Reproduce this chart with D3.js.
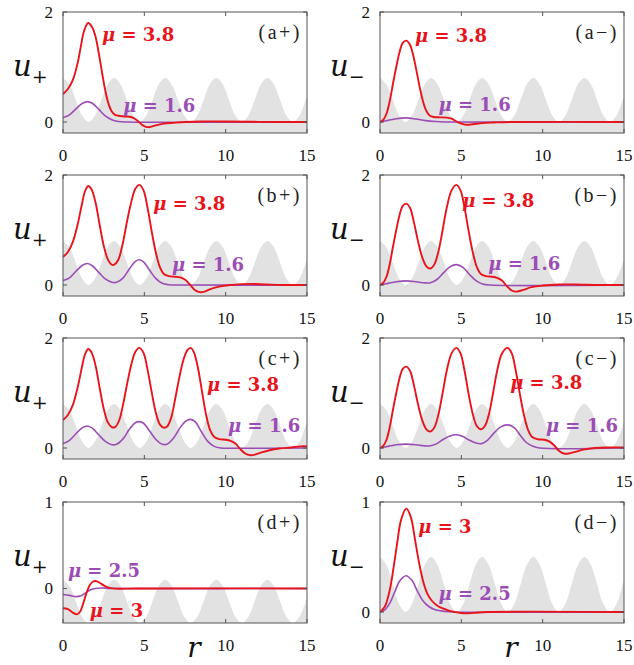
<!DOCTYPE html>
<html>
<head>
<meta charset="utf-8">
<script src="https://cdn.jsdelivr.net/npm/d3@7"></script>
<style>
  body { margin: 0; background: #fff; }
</style>
</head>
<body>
<svg id="mainSvg" width="634" height="665"></svg>
<script>
// ---------- data ----------
var xTicks = [0, 5, 10, 15];

// background potential (grey), normalised 0..1, sampled every pi/8
var potR = [0, 0.39, 0.79, 1.18, 1.57, 1.96, 2.36, 2.75, 3.14, 3.53, 3.93, 4.32, 4.71, 5.11, 5.50, 5.89,
            6.28, 6.68, 7.07, 7.46, 7.85, 8.25, 8.64, 9.03, 9.42, 9.82, 10.21, 10.60, 11.00, 11.39, 11.78,
            12.17, 12.57, 12.96, 13.35, 13.74, 14.14, 14.53, 14.92, 15.0];
var potV = [1, 0.86, 0.5, 0.14, 0, 0.14, 0.5, 0.86, 1, 0.86, 0.5, 0.14, 0, 0.14, 0.5, 0.86,
            1, 0.86, 0.5, 0.14, 0, 0.14, 0.5, 0.86, 1, 0.86, 0.5, 0.14, 0, 0.14, 0.5,
            0.86, 1, 0.86, 0.5, 0.14, 0, 0.14, 0.5, 0.57];

// (a+)
var aPlusRed = [[0,0.51],[0.3,0.6],[0.6,0.76],[0.9,1.07],[1.1,1.38],[1.3,1.66],[1.55,1.8],[1.8,1.72],[2.0,1.55],
  [2.2,1.25],[2.4,0.9],[2.6,0.57],[2.8,0.33],[3.0,0.19],[3.2,0.13],[3.5,0.11],[3.8,0.1],[4.1,0.095],[4.35,0.07],
  [4.6,0.02],[4.85,-0.05],[5.1,-0.09],[5.35,-0.09],[5.7,-0.06],[6.2,-0.03],[6.8,-0.015],[7.5,0],[8.5,0.01],
  [10,0.01],[11.5,0.005],[13,0],[15,0]];
var aPlusPurple = [[0,0.08],[0.4,0.13],[0.8,0.24],[1.2,0.34],[1.5,0.37],[1.8,0.34],[2.2,0.23],[2.6,0.11],
  [3.0,0.04],[3.4,0.01],[4,0],[15,0]];
// (a-)
var aMinusRed = [[0,0],[0.2,0.04],[0.4,0.15],[0.6,0.38],[0.8,0.7],[1.0,1.0],[1.2,1.27],[1.4,1.44],[1.62,1.48],
  [1.85,1.4],[2.05,1.2],[2.25,0.92],[2.45,0.62],[2.65,0.37],[2.85,0.2],[3.05,0.12],[3.3,0.09],[3.7,0.085],
  [4.1,0.08],[4.4,0.06],[4.7,0.01],[5.0,-0.03],[5.3,-0.05],[5.7,-0.04],[6.3,-0.02],[7,-0.01],[8,0],[15,0]];
var aMinusPurple = [[0,0],[0.5,0.03],[1.0,0.06],[1.6,0.075],[2.2,0.055],[2.8,0.025],[3.4,0.008],[4,0],[15,0]];
// (b+)
var bPlusRed = [[0,0.51],[0.3,0.6],[0.6,0.78],[0.9,1.1],[1.15,1.45],[1.35,1.7],[1.55,1.8],[1.75,1.74],[2.0,1.5],
  [2.25,1.1],[2.5,0.72],[2.75,0.47],[3.0,0.37],[3.15,0.37],[3.4,0.46],[3.65,0.72],[3.9,1.1],[4.15,1.45],
  [4.45,1.75],[4.7,1.82],[4.95,1.72],[5.2,1.4],[5.45,0.98],[5.7,0.6],[5.95,0.33],[6.2,0.2],[6.5,0.16],
  [6.9,0.15],[7.2,0.14],[7.5,0.1],[7.8,0.01],[8.1,-0.09],[8.4,-0.13],[8.7,-0.12],[9.1,-0.07],[9.6,-0.03],
  [10.3,0],[11,0.015],[11.6,0.02],[12.5,0.01],[13.5,0],[15,0]];
var bPlusPurple = [[0,0.08],[0.4,0.13],[0.8,0.25],[1.2,0.36],[1.5,0.39],[1.8,0.35],[2.2,0.23],[2.6,0.11],
  [3.0,0.05],[3.3,0.05],[3.7,0.13],[4.1,0.3],[4.45,0.43],[4.7,0.46],[4.95,0.42],[5.3,0.28],[5.7,0.12],
  [6.1,0.03],[6.5,0.005],[7,0],[15,0]];
// (b-)
var bMinusRed = [[0,0],[0.2,0.04],[0.4,0.15],[0.6,0.38],[0.8,0.7],[1.0,1.0],[1.2,1.27],[1.4,1.44],[1.62,1.48],
  [1.85,1.4],[2.1,1.12],[2.35,0.78],[2.6,0.5],[2.85,0.34],[3.1,0.3],[3.35,0.38],[3.6,0.62],[3.85,1.0],
  [4.1,1.4],[4.4,1.72],[4.7,1.82],[4.95,1.72],[5.2,1.4],[5.45,0.98],[5.7,0.6],[5.95,0.33],[6.2,0.2],
  [6.5,0.16],[6.9,0.15],[7.2,0.13],[7.5,0.08],[7.8,-0.02],[8.1,-0.1],[8.4,-0.12],[8.8,-0.09],[9.3,-0.04],
  [10,-0.01],[11,0.01],[12,0.01],[13.5,0],[15,0]];
var bMinusPurple = [[0,0],[0.5,0.03],[1.0,0.06],[1.6,0.075],[2.2,0.06],[2.7,0.04],[3.1,0.04],[3.5,0.1],
  [3.9,0.22],[4.3,0.33],[4.7,0.37],[5.1,0.32],[5.5,0.19],[5.9,0.08],[6.3,0.02],[6.8,0],[15,0]];
// (c+)
var cPlusRed = [[0,0.51],[0.3,0.6],[0.6,0.78],[0.9,1.1],[1.15,1.45],[1.35,1.7],[1.55,1.8],[1.75,1.74],[2.0,1.5],
  [2.25,1.1],[2.5,0.72],[2.75,0.47],[3.0,0.38],[3.2,0.38],[3.45,0.5],[3.7,0.8],[3.95,1.18],[4.2,1.52],
  [4.45,1.75],[4.7,1.82],[4.95,1.73],[5.2,1.42],[5.45,1.02],[5.7,0.65],[5.95,0.43],[6.2,0.37],[6.4,0.39],
  [6.65,0.55],[6.9,0.9],[7.15,1.28],[7.4,1.6],[7.65,1.78],[7.85,1.82],[8.05,1.74],[8.3,1.45],[8.55,1.02],
  [8.8,0.6],[9.05,0.32],[9.3,0.2],[9.6,0.16],[10.0,0.15],[10.3,0.13],[10.6,0.08],[10.9,-0.02],[11.2,-0.1],
  [11.5,-0.13],[11.8,-0.12],[12.2,-0.08],[12.7,-0.04],[13.3,-0.01],[14,0.01],[14.6,0.03],[15,0.03]];
var cPlusPurple = [[0,0.08],[0.4,0.14],[0.8,0.26],[1.2,0.37],[1.5,0.4],[1.8,0.36],[2.2,0.24],[2.6,0.12],
  [3.0,0.06],[3.3,0.07],[3.7,0.17],[4.1,0.35],[4.45,0.46],[4.7,0.48],[4.95,0.45],[5.3,0.32],[5.7,0.16],
  [6.1,0.07],[6.4,0.07],[6.8,0.18],[7.2,0.37],[7.55,0.49],[7.85,0.52],[8.15,0.47],[8.5,0.3],[8.9,0.12],
  [9.3,0.03],[9.7,0],[10.5,-0.005],[15,0]];
// (c-)
var cMinusRed = [[0,0],[0.2,0.04],[0.4,0.15],[0.6,0.38],[0.8,0.7],[1.0,1.0],[1.2,1.27],[1.4,1.44],[1.62,1.48],
  [1.85,1.4],[2.1,1.12],[2.35,0.78],[2.6,0.5],[2.85,0.34],[3.1,0.3],[3.35,0.38],[3.6,0.62],[3.85,1.0],
  [4.1,1.4],[4.4,1.72],[4.7,1.82],[4.95,1.72],[5.2,1.4],[5.45,0.98],[5.7,0.62],[5.95,0.4],[6.2,0.34],
  [6.45,0.4],[6.7,0.62],[6.95,1.0],[7.2,1.4],[7.5,1.72],[7.85,1.82],[8.1,1.72],[8.35,1.4],[8.6,0.98],
  [8.85,0.6],[9.1,0.33],[9.35,0.2],[9.7,0.16],[10.1,0.15],[10.4,0.12],[10.7,0.05],[11.0,-0.05],[11.3,-0.1],
  [11.6,-0.1],[12,-0.07],[12.5,-0.03],[13.2,0],[14,0.01],[15,0.01]];
var cMinusPurple = [[0,0],[0.5,0.03],[1.0,0.06],[1.6,0.07],[2.2,0.06],[2.7,0.04],[3.1,0.04],[3.5,0.08],
  [3.9,0.16],[4.3,0.22],[4.7,0.24],[5.1,0.21],[5.5,0.14],[5.9,0.09],[6.25,0.08],[6.6,0.14],[7.0,0.27],
  [7.4,0.38],[7.85,0.42],[8.25,0.37],[8.6,0.24],[9.0,0.1],[9.4,0.03],[9.8,0],[15,0]];
// (d+)
var dPlusRed = [[0,-0.23],[0.3,-0.24],[0.6,-0.28],[0.85,-0.3],[1.05,-0.27],[1.25,-0.17],[1.45,-0.05],
  [1.65,0.04],[1.85,0.08],[2.05,0.085],[2.3,0.06],[2.55,0.03],[2.8,0.01],[3.1,0],[3.5,-0.003],[4.5,0],[15,0]];
var dPlusPurple = [[0,-0.07],[0.4,-0.08],[0.8,-0.095],[1.1,-0.085],[1.4,-0.05],[1.7,-0.015],[2.0,0],
  [2.4,0.005],[3,0],[15,0]];
// (d-)
var dMinusRed = [[0,0],[0.3,0.05],[0.6,0.2],[0.85,0.42],[1.05,0.62],[1.3,0.84],[1.62,0.94],[1.9,0.86],
  [2.15,0.66],[2.4,0.45],[2.65,0.28],[2.9,0.17],[3.2,0.1],[3.6,0.05],[4.1,0.02],[4.6,0],[5.1,-0.012],
  [5.8,-0.008],[6.6,0],[15,0]];
var dMinusPurple = [[0,0],[0.3,0.02],[0.6,0.08],[0.9,0.18],[1.2,0.28],[1.6,0.33],[1.95,0.29],[2.3,0.19],
  [2.65,0.1],[3.0,0.05],[3.4,0.02],[4,0.005],[4.6,0],[15,0]];

// ---------- style ----------
var redColor = "#e8141b";
var purpleColor = "#9b4db5";
var greyFill = "#e2e2e2";
var frameColor = "#555";
var serif = "'Liberation Serif', 'DejaVu Serif', serif";

var colX = [63, 380];
var rowY = [12, 175, 338, 502];
var panelW = 244, panelH = 121;

// panel list: col, row, tag, subscript, y domain, y ticks, grey base/amp, curves, labels
var panels = [
  {col:0,row:0,tag:"(a+)",sub:"+",yDom:[-0.2,2],yTicks:[0,2],gBase:0,gAmp:0.8,
   red:aPlusRed,purple:aPlusPurple,redLab:["3.8",2.4,1.48],purLab:["1.6",3.7,0.19]},
  {col:1,row:0,tag:"(a\u2212)",sub:"\u2212",yDom:[-0.2,2],yTicks:[0,2],gBase:0,gAmp:0.8,
   red:aMinusRed,purple:aMinusPurple,redLab:["3.8",2.15,1.46],purLab:["1.6",3.6,0.2]},
  {col:0,row:1,tag:"(b+)",sub:"+",yDom:[-0.2,2],yTicks:[0,2],gBase:0,gAmp:0.8,
   red:bPlusRed,purple:bPlusPurple,redLab:["3.8",5.55,1.37],purLab:["1.6",6.7,0.25]},
  {col:1,row:1,tag:"(b\u2212)",sub:"\u2212",yDom:[-0.2,2],yTicks:[0,2],gBase:0,gAmp:0.8,
   red:bMinusRed,purple:bMinusPurple,redLab:["3.8",5.05,1.42],purLab:["1.6",6.65,0.28]},
  {col:0,row:2,tag:"(c+)",sub:"+",yDom:[-0.2,2],yTicks:[0,2],gBase:0,gAmp:0.8,
   red:cPlusRed,purple:cPlusPurple,redLab:["3.8",8.85,1.04],purLab:["1.6",10.15,0.3]},
  {col:1,row:2,tag:"(c\u2212)",sub:"\u2212",yDom:[-0.2,2],yTicks:[0,2],gBase:0,gAmp:0.8,
   red:cMinusRed,purple:cMinusPurple,redLab:["3.8",8.0,1.08],purLab:["1.6",10.2,0.3]},
  {col:0,row:3,tag:"(d+)",sub:"+",yDom:[-0.4,1],yTicks:[0,1],gBase:-0.4,gAmp:0.5,
   red:dPlusRed,purple:dPlusPurple,redLab:["3",1.65,-0.33],purLab:["2.5",0.3,0.13]},
  {col:1,row:3,tag:"(d\u2212)",sub:"\u2212",yDom:[-0.1,1],yTicks:[0,1],gBase:0,gAmp:0.5,
   red:dMinusRed,purple:dMinusPurple,redLab:["3",2.35,0.72],purLab:["2.5",3.6,0.11]}
];

window.addEventListener("load", drawAll);

function drawAll()
{
  var svg = d3.select("#mainSvg");
  panels.forEach(function(p) { drawPanel(svg, p); });

  // r labels under the bottom row
  [0, 1].forEach(function(c) {
    svg.append("text")
      .attr("x", colX[c] + 131).attr("y", 657)
      .attr("text-anchor", "middle")
      .attr("font-family", "'DejaVu Serif', serif").attr("font-style", "italic")
      .attr("font-size", 28).attr("fill", "#111")
      .text("r");
  });
}

function drawPanel(svg, p)
{
  var x0 = colX[p.col], y0 = rowY[p.row];
  var g = svg.append("g").attr("transform", `translate(${x0}, ${y0})`);
  var xScale = d3.scaleLinear().domain([0, 15]).range([0, panelW]);
  var yScale = d3.scaleLinear().domain(p.yDom).range([panelH, 0]);

  var clipId = "clip" + p.col + p.row;
  g.append("clipPath").attr("id", clipId)
    .append("rect").attr("width", panelW).attr("height", panelH);
  var plot = g.append("g").attr("clip-path", `url(#${clipId})`);

  // grey potential
  var pot = potR.map(function(r, i) { return [r, potV[i]]; });
  var area = d3.area()
    .x(function(d) { return xScale(d[0]); })
    .y0(panelH)
    .y1(function(d) { return yScale(p.gBase + p.gAmp * d[1]); })
    .curve(d3.curveCatmullRom);
  plot.append("path").datum(pot).attr("d", area).attr("fill", greyFill);

  var line = d3.line()
    .x(function(d) { return xScale(d[0]); })
    .y(function(d) { return yScale(d[1]); })
    .curve(d3.curveCatmullRom);
  plot.append("path").datum(p.purple).attr("d", line)
    .attr("fill", "none").attr("stroke", purpleColor).attr("stroke-width", 1.6);
  plot.append("path").datum(p.red).attr("d", line)
    .attr("fill", "none").attr("stroke", redColor).attr("stroke-width", 1.9);

  // frame
  g.append("rect").attr("width", panelW).attr("height", panelH)
    .attr("fill", "none").attr("stroke", frameColor).attr("stroke-width", 1);

  // inward ticks on all four sides
  var tickLen = 4;
  xTicks.forEach(function(t) {
    g.append("line").attr("x1", xScale(t)).attr("x2", xScale(t)).attr("y1", panelH).attr("y2", panelH - tickLen)
      .attr("stroke", frameColor);
    g.append("line").attr("x1", xScale(t)).attr("x2", xScale(t)).attr("y1", 0).attr("y2", tickLen)
      .attr("stroke", frameColor);
    g.append("text").attr("x", xScale(t)).attr("y", panelH + 28)
      .attr("text-anchor", "middle").attr("font-family", serif).attr("font-size", 17).attr("fill", "#111")
      .text(t);
  });
  p.yTicks.forEach(function(t) {
    g.append("line").attr("x1", 0).attr("x2", tickLen).attr("y1", yScale(t)).attr("y2", yScale(t))
      .attr("stroke", frameColor);
    g.append("line").attr("x1", panelW).attr("x2", panelW - tickLen).attr("y1", yScale(t)).attr("y2", yScale(t))
      .attr("stroke", frameColor);
    g.append("text").attr("x", -10).attr("y", yScale(t)).attr("dy", "0.33em")
      .attr("text-anchor", "end").attr("font-family", serif).attr("font-size", 17).attr("fill", "#111")
      .text(t);
  });

  // panel tag
  g.append("text").attr("x", panelW - 5).attr("y", 27)
    .attr("text-anchor", "end").attr("font-family", serif).attr("font-size", 20)
    .attr("letter-spacing", 2.5).attr("fill", "#222")
    .text(p.tag);

  // y label u_+ / u_-
  var ylab = g.append("text").attr("x", -50).attr("y", panelH / 2 + 3)
    .attr("font-family", "'DejaVu Serif', serif").attr("fill", "#111");
  ylab.append("tspan").attr("font-style", "italic").attr("font-size", 29).text("u");
  ylab.append("tspan").attr("font-size", 19).attr("dy", 7).text(p.sub);

  // curve labels
  [[p.redLab, redColor], [p.purLab, purpleColor]].forEach(function(L) {
    var lab = L[0];
    var t = g.append("text").attr("x", xScale(lab[1])).attr("y", yScale(lab[2]))
      .attr("font-family", "'DejaVu Serif', serif").attr("font-weight", "bold")
      .attr("font-size", 18).attr("fill", L[1]);
    t.append("tspan").attr("font-style", "italic").text("\u03bc");
    t.append("tspan").text(" = " + lab[0]);
  });
}
</script>
</body>
</html>
